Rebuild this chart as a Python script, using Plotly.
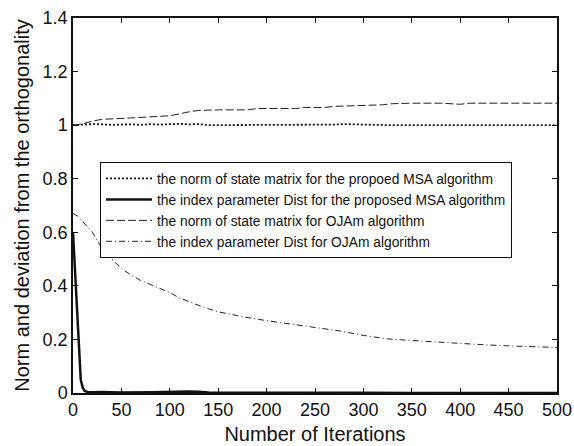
import plotly.graph_objects as go

# MSA norm of state matrix (dotted)
msa_norm_x = [0, 10, 20, 30, 40, 50, 60, 70, 80, 90, 100, 110, 120, 130, 140, 150, 175, 200, 225, 250, 270, 280, 290, 300, 310, 325, 350, 400, 450, 500]
msa_norm_y = [1.0, 1.003, 1.004, 1.003, 1.001, 1.002, 1.003, 1.001, 1.004, 1.002, 1.003, 1.005, 1.003, 1.004, 1.0, 1.0, 1.0, 1.001, 1.0, 1.001, 1.002, 1.004, 1.003, 1.001, 1.0, 1.0, 1.0, 1.0, 1.0, 1.0]

# MSA index parameter Dist (solid)
msa_dist_x = [0, 2, 4, 6, 8, 10, 12, 15, 20, 30, 50, 80, 100, 120, 130, 140, 160, 200, 260, 290, 300, 350, 400, 450, 500]
msa_dist_y = [0.6, 0.46, 0.3, 0.15, 0.05, 0.02, 0.008, 0.004, 0.003, 0.004, 0.002, 0.003, 0.005, 0.006, 0.005, 0.002, 0.001, 0.001, 0.002, 0.003, 0.001, 0.0, 0.0, 0.0, 0.0]

# OJAm norm of state matrix (dashed)
oja_norm_x = [0, 10, 20, 30, 50, 70, 80, 100, 110, 120, 130, 150, 180, 190, 200, 230, 240, 260, 270, 290, 300, 320, 330, 350, 380, 390, 395, 400, 410, 450, 500]
oja_norm_y = [1.0, 1.005, 1.015, 1.022, 1.025, 1.028, 1.032, 1.035, 1.042, 1.05, 1.055, 1.057, 1.057, 1.062, 1.062, 1.062, 1.066, 1.066, 1.07, 1.072, 1.075, 1.076, 1.08, 1.082, 1.082, 1.08, 1.077, 1.078, 1.082, 1.082, 1.082]

# OJAm index parameter Dist (dash-dot)
oja_dist_x = [0, 5, 10, 15, 20, 25, 30, 40, 50, 60, 70, 80, 90, 100, 110, 120, 135, 150, 175, 200, 225, 250, 275, 300, 325, 350, 375, 400, 425, 450, 475, 500]
oja_dist_y = [0.67, 0.66, 0.64, 0.62, 0.6, 0.57, 0.54, 0.5, 0.465, 0.44, 0.42, 0.405, 0.39, 0.375, 0.355, 0.34, 0.32, 0.303, 0.285, 0.27, 0.257, 0.245, 0.232, 0.215, 0.202, 0.196, 0.19, 0.186, 0.18, 0.176, 0.173, 0.17]

x_ticks = [0, 50, 100, 150, 200, 250, 300, 350, 400, 450, 500]
y_ticks = [0, 0.2, 0.4, 0.6, 0.8, 1.0, 1.2, 1.4]
y_tick_text = ["0", "0.2", "0.4", "0.6", "0.8", "1", "1.2", "1.4"]

names = [
    "the norm of state matrix for the propoed MSA algorithm",
    "the index parameter Dist for the proposed MSA algorithm",
    "the norm of state matrix for OJAm algorithm",
    "the index parameter Dist for OJAm algorithm",
]

FONT = "Liberation Sans, Arial, sans-serif"

fig = go.Figure()
fig.add_trace(go.Scatter(x=msa_norm_x, y=msa_norm_y, mode="lines", name=names[0],
                         line=dict(color="#111", width=1.8, dash="2px,2px")))
fig.add_trace(go.Scatter(x=msa_dist_x, y=msa_dist_y, mode="lines", name=names[1],
                         line=dict(color="#111", width=2.5)))
fig.add_trace(go.Scatter(x=oja_norm_x, y=oja_norm_y, mode="lines", name=names[2],
                         line=dict(color="#222", width=1, dash="8px,3px")))
fig.add_trace(go.Scatter(x=oja_dist_x, y=oja_dist_y, mode="lines", name=names[3],
                         line=dict(color="#222", width=1, dash="6px,3px,1px,3px")))

axis_common = dict(showgrid=False, zeroline=False, showline=True, linecolor="#111", linewidth=1.5,
                   mirror="ticks", ticks="inside", ticklen=5, tickcolor="#111", automargin=False,
                   tickfont=dict(family=FONT, size=18, color="#111"))

fig.update_layout(
    width=574, height=446,
    margin=dict(l=73, r=17, t=18, b=53),
    paper_bgcolor="white", plot_bgcolor="white",
    font=dict(family=FONT, color="#111"),
    showlegend=True,
    legend=dict(x=0.0558, y=0.616, xanchor="left", yanchor="top",
                bgcolor="white", bordercolor="#111", borderwidth=1,
                font=dict(size=13.8, color="#111"), tracegroupgap=0,
                itemwidth=46),
    xaxis=dict(range=[0, 500], tickvals=x_ticks,
               title=dict(text="Number of Iterations", font=dict(size=20), standoff=8),
               **axis_common),
    yaxis=dict(range=[0, 1.4], tickvals=y_ticks, ticktext=y_tick_text,
               title=dict(text="Norm and deviation from the orthogonality", font=dict(size=20), standoff=8),
               **axis_common),
)

fig.write_html("out.html")
